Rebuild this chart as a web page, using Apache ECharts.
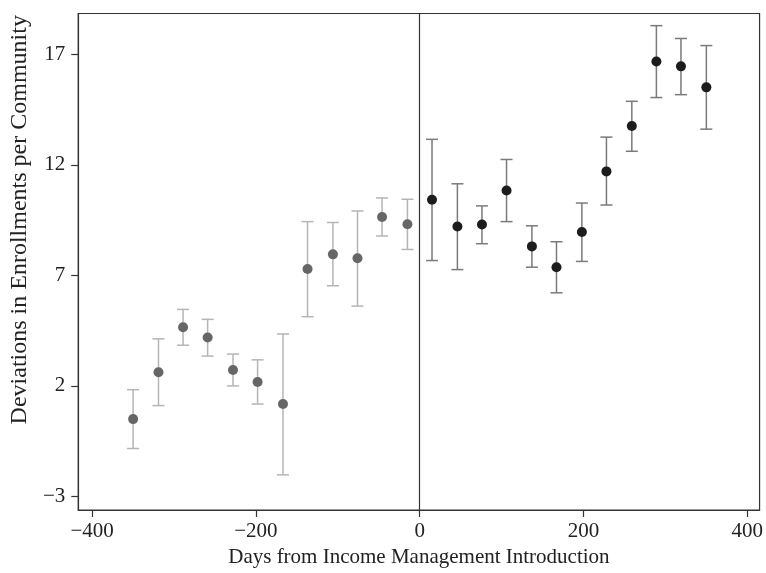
<!DOCTYPE html>
<html>
<head>
<meta charset="utf-8">
<script src="https://cdn.jsdelivr.net/npm/echarts@6/dist/echarts.min.js"></script>
<style>html,body{margin:0;padding:0;background:#fff}#c{width:766px;height:573px}</style>
</head>
<body>
<div id="c"></div>
<script>
const preDays  = [-350, -319, -289, -259, -228, -198, -167, -137, -106, -76, -46, -15];
const preMean  = [0.50, 2.62, 4.65, 4.19, 2.72, 2.18, 1.18, 7.29, 7.95, 7.77, 9.64, 9.31];
const preLow   = [-0.83, 1.11, 3.84, 3.35, 2.00, 1.18, -2.02, 5.13, 6.53, 5.61, 8.78, 8.17];
const preHigh  = [1.83, 4.13, 5.46, 5.01, 3.44, 3.18, 4.35, 9.43, 9.39, 9.91, 10.50, 10.44];

const postDays = [15, 46, 76, 106, 137, 167, 198, 228, 259, 289, 319, 350];
const postMean = [10.42, 9.21, 9.30, 10.84, 8.31, 7.37, 8.96, 11.70, 13.75, 16.67, 16.45, 15.50];
const postLow  = [7.67, 7.26, 8.43, 9.43, 7.37, 6.21, 7.63, 10.18, 12.61, 15.04, 15.17, 13.61];
const postHigh = [13.15, 11.14, 10.14, 12.24, 9.24, 8.52, 10.27, 13.25, 14.87, 18.29, 17.71, 17.39];

const xTicks = [-400, -200, 0, 200, 400];
const yTicks = [-3, 2, 7, 12, 17];

const xTitle = 'Days from Income Management Introduction';
const yTitle = 'Deviations in Enrollments per Community';

const FONT = 'Liberation Serif';

function errRender(color) {
  return function (params, api) {
    const x = api.value(0);
    const lo = api.coord([x, api.value(1)]);
    const hi = api.coord([x, api.value(2)]);
    const hw = 6;
    const style = { stroke: color, lineWidth: 1.5, fill: null };
    return {
      type: 'group',
      children: [
        { type: 'line', shape: { x1: lo[0], y1: lo[1], x2: hi[0], y2: hi[1] }, style },
        { type: 'line', shape: { x1: lo[0] - hw, y1: lo[1], x2: lo[0] + hw, y2: lo[1] }, style },
        { type: 'line', shape: { x1: hi[0] - hw, y1: hi[1], x2: hi[0] + hw, y2: hi[1] }, style }
      ]
    };
  };
}

const chart = echarts.init(document.getElementById('c'), null, { renderer: 'canvas' });
chart.setOption({
  animation: false,
  backgroundColor: '#fff',
  grid: { left: 76, right: 4, top: 13.5, bottom: 60.5, show: true, borderColor: '#333', borderWidth: 1.2, backgroundColor: 'transparent' },
  xAxis: {
    type: 'value', min: -417, max: 415,
    name: xTitle, nameLocation: 'middle', nameGap: 37,
    nameTextStyle: { fontFamily: FONT, fontSize: 21, color: '#222' },
    axisLine: { show: true, onZero: false, lineStyle: { color: '#333', width: 1.2 } },
    axisTick: { show: true, length: 7, inside: false, customValues: xTicks, lineStyle: { color: '#333', width: 1.2 } },
    axisLabel: { customValues: xTicks, fontFamily: FONT, fontSize: 21, color: '#222', margin: 11,
      formatter: v => (v < 0 ? '\u2212' + Math.abs(v) : String(v)) },
    splitLine: { show: false }
  },
  yAxis: {
    type: 'value', min: -3.61, max: 18.84,
    name: yTitle, nameLocation: 'middle', nameGap: 37,
    nameTextStyle: { fontFamily: FONT, fontSize: 24, color: '#222', padding: [0, 0, 0, 84] },
    axisLine: { show: true, onZero: false, lineStyle: { color: '#333', width: 1.2 } },
    axisTick: { show: true, length: 7, inside: false, customValues: yTicks, lineStyle: { color: '#333', width: 1.2 } },
    axisLabel: { customValues: yTicks, fontFamily: FONT, fontSize: 21, color: '#222', margin: 13,
      formatter: v => (v < 0 ? '\u2212' + Math.abs(v) : String(v)) },
    splitLine: { show: false }
  },
  series: [
    {
      type: 'custom', name: 'preErr', renderItem: errRender('#b5b5b5'), z: 2,
      data: preDays.map((d, i) => [d, preLow[i], preHigh[i]]),
      encode: { x: 0, y: [1, 2] },
      markLine: { silent: true, symbol: 'none', label: { show: false },
        lineStyle: { color: '#333', width: 1.2, type: 'solid' }, data: [{ xAxis: 0 }] }
    },
    {
      type: 'custom', name: 'postErr', renderItem: errRender('#7a7a7a'), z: 2,
      data: postDays.map((d, i) => [d, postLow[i], postHigh[i]]),
      encode: { x: 0, y: [1, 2] }
    },
    {
      type: 'scatter', name: 'pre', symbol: 'circle', symbolSize: 10, z: 3,
      itemStyle: { color: '#666666', opacity: 1 },
      data: preDays.map((d, i) => [d, preMean[i]])
    },
    {
      type: 'scatter', name: 'post', symbol: 'circle', symbolSize: 10, z: 3,
      itemStyle: { color: '#1c1c1c', opacity: 1 },
      data: postDays.map((d, i) => [d, postMean[i]])
    }
  ]
});
</script>
</body>
</html>
